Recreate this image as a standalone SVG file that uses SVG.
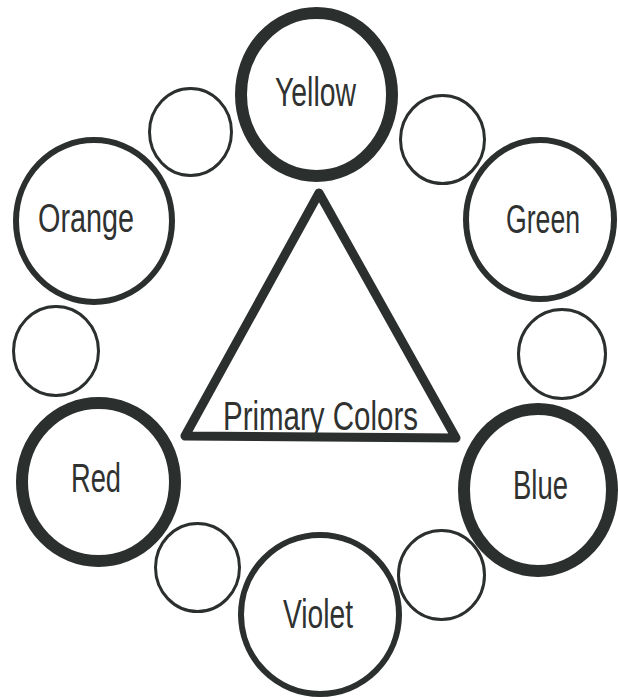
<svg xmlns="http://www.w3.org/2000/svg" width="618" height="700" viewBox="0 0 618 700">
<style>
.bg{fill:#ffffff}
.ring{fill:none;stroke:#2b2f2d}
.thick{stroke-width:12}
.mid{stroke-width:6}
.thin{stroke-width:3}
.tri{fill:none;stroke:#2b2f2d;stroke-width:9;stroke-linejoin:round}
.lbl{font-family:"Liberation Sans","DejaVu Sans",sans-serif;font-size:40px;fill:#2f3230}
</style>
<rect class="bg" x="0" y="0" width="618" height="700"/>
<g id="triangle">
<polygon class="tri" points="319,193 185,436 456,438"/>
<text class="lbl" x="223" y="430" textLength="195" lengthAdjust="spacingAndGlyphs">Primary Colors</text>
</g>
<g id="yellow">
<ellipse class="ring thick" cx="316.5" cy="94.5" rx="75.5" ry="81.5"/>
<text class="lbl" x="275" y="106" textLength="81" lengthAdjust="spacingAndGlyphs">Yellow</text>
</g>
<g id="orange">
<ellipse class="ring mid" cx="94" cy="221" rx="78" ry="81"/>
<text class="lbl" x="38" y="232" textLength="96" lengthAdjust="spacingAndGlyphs">Orange</text>
</g>
<g id="green">
<ellipse class="ring mid" cx="540" cy="219.5" rx="74" ry="79.5"/>
<text class="lbl" x="506" y="233" textLength="74" lengthAdjust="spacingAndGlyphs">Green</text>
</g>
<g id="red">
<ellipse class="ring thick" cx="98.5" cy="482" rx="76.5" ry="79"/>
<text class="lbl" x="71" y="492" textLength="50" lengthAdjust="spacingAndGlyphs">Red</text>
</g>
<g id="blue">
<ellipse class="ring thick" cx="538" cy="490" rx="74" ry="81"/>
<text class="lbl" x="513" y="499" textLength="55" lengthAdjust="spacingAndGlyphs">Blue</text>
</g>
<g id="violet">
<ellipse class="ring mid" cx="320" cy="614.5" rx="79" ry="79.5"/>
<text class="lbl" x="283" y="628" textLength="70" lengthAdjust="spacingAndGlyphs">Violet</text>
</g>
<g id="blank-upper-left"><ellipse class="ring thin" cx="190.5" cy="132" rx="41" ry="43.5"/></g>
<g id="blank-upper-right"><ellipse class="ring thin" cx="442.5" cy="139.5" rx="42" ry="44"/></g>
<g id="blank-left"><ellipse class="ring thin" cx="56" cy="351" rx="42.5" ry="44.5"/></g>
<g id="blank-right"><ellipse class="ring thin" cx="562" cy="354" rx="43.5" ry="44.5"/></g>
<g id="blank-lower-left"><ellipse class="ring thin" cx="197.5" cy="567.5" rx="42" ry="44"/></g>
<g id="blank-lower-right"><ellipse class="ring thin" cx="441.5" cy="575" rx="43" ry="44.5"/></g>
<g id="connectors"></g>
</svg>
